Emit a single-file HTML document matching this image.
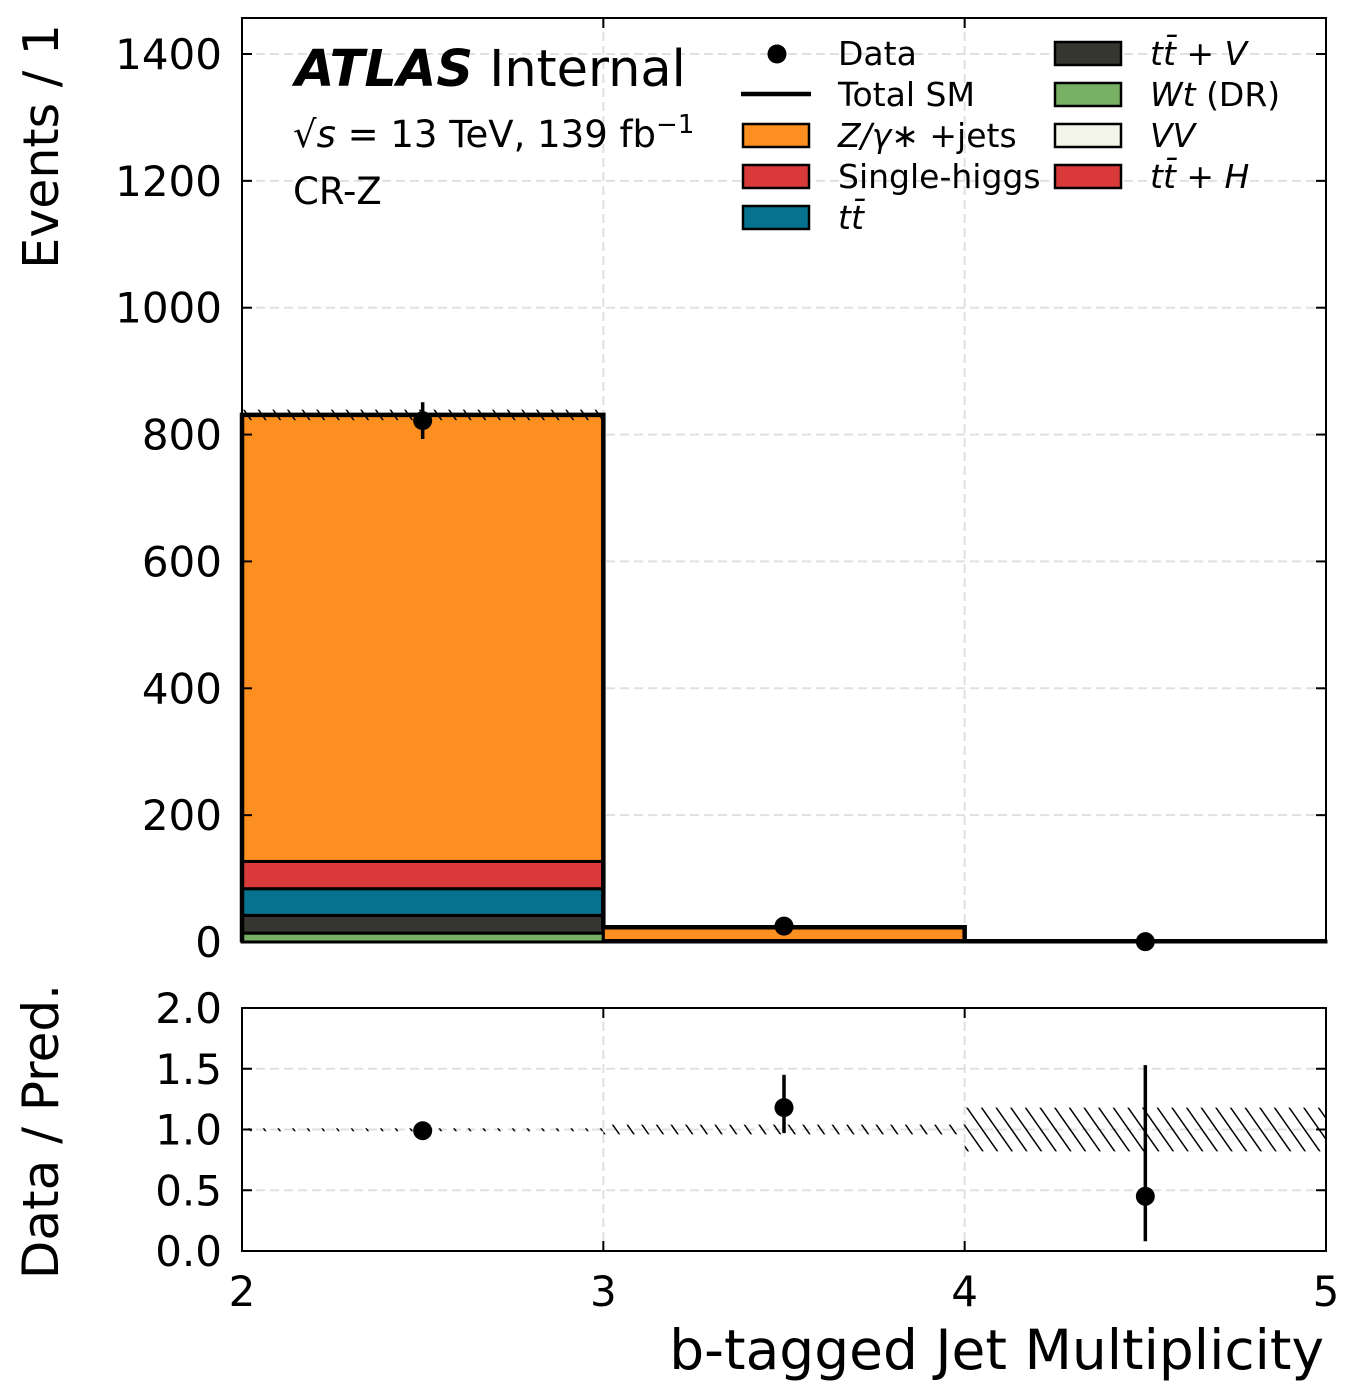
<!DOCTYPE html>
<html><head><meta charset="utf-8"><style>
html,body{margin:0;padding:0;background:#fff;}
svg{display:block;font-family:"DejaVu Sans","Liberation Sans",sans-serif;}
</style></head><body>
<svg id="chart" width="1360" height="1399" viewBox="0 0 1360 1399" xmlns="http://www.w3.org/2000/svg">
<defs>
<pattern id="hatch" patternUnits="userSpaceOnUse" width="12" height="12" patternTransform="rotate(-35)">
<line x1="0" y1="0" x2="0" y2="12" stroke="#000" stroke-width="3"/>
</pattern>
</defs>
<g id="main"></g>
<g id="ratio"></g>
<g id="legend"></g>
</svg>
<script>
const binEdges = [2, 3, 4, 5];
const wtDR = [14, 0.3, 0.05];
const ttV = [28, 0.5, 0.05];
const ttbar = [42, 1, 0.1];
const singleHiggs = [43, 0.5, 0.05];
const zjets = [704, 21, 0.9];
const dataVals = [822, 25, 0.5];
const dataErr = [29, 5, 0.7];
const ratioVals = [0.99, 1.18, 0.45];
const ratioErrLo = [0.02, 0.21, 0.37];
const ratioErrHi = [0.02, 0.27, 1.08];
const bandHalf = [0.01, 0.04, 0.18];
const yTicks = [0, 200, 400, 600, 800, 1000, 1200, 1400];
const rTicks = [0, 0.5, 1.0, 1.5, 2.0];
const xTicks = [2, 3, 4, 5];

const NS = "http://www.w3.org/2000/svg";
const L = 242, R = 1326, T = 18, B = 942, RT = 1008, RB = 1251;
const xs = v => L + (v - 2) / 3 * (R - L);
const ys = v => B - v / 1400 * (942 - 54);
const rs = v => RB - v / 2 * (RB - RT);
function mk(parent, tag, attrs) { const e = document.createElementNS(NS, tag); for (const k in attrs) e.setAttribute(k, attrs[k]); parent.appendChild(e); return e; }
const main = document.getElementById('main');
const ratio = document.getElementById('ratio');

for (const t of yTicks) { if (t === 0) continue; const g = mk(main, 'line', {x1: L, x2: R, y1: ys(t), y2: ys(t), stroke: '#e0e0e0', 'stroke-width': 2, 'stroke-dasharray': '9,5'});   }
for (const t of xTicks) { if (t === 2 || t === 5) continue;
  const g = mk(main, 'line', {x1: xs(t), x2: xs(t), y1: T, y2: B, stroke: '#e0e0e0', 'stroke-width': 2, 'stroke-dasharray': '9,5'});  
  const g2 = mk(ratio, 'line', {x1: xs(t), x2: xs(t), y1: RT, y2: RB, stroke: '#e0e0e0', 'stroke-width': 2, 'stroke-dasharray': '9,5'});   }
for (const t of rTicks) { if (t === 0 || t === 2) continue; const g = mk(ratio, 'line', {x1: L, x2: R, y1: rs(t), y2: rs(t), stroke: '#e0e0e0', 'stroke-width': 2, 'stroke-dasharray': '9,5'});   }

const stack = [[wtDR, '#77b064', 'wt-dr'], [ttV, '#363630', 'ttv'], [ttbar, '#077290', 'ttbar'], [singleHiggs, '#db3a3a', 'single-higgs'], [zjets, '#fc8f1f', 'z-jets']];
const totals = [];
for (let i = 0; i < 3; i++) {
  let base = 0;
  for (const [arr, col, nm] of stack) {
    const r = mk(main, 'rect', {x: xs(binEdges[i]), y: ys(base + arr[i]), width: xs(binEdges[i + 1]) - xs(binEdges[i]), height: ys(base) - ys(base + arr[i]), fill: col, stroke: '#000', 'stroke-width': 3});
     
    base += arr[i];
  }
  totals.push(base);
}
let d = 'M' + xs(2) + ',' + ys(0);
for (let i = 0; i < 3; i++) d += ' L' + xs(binEdges[i]) + ',' + ys(totals[i]) + ' L' + xs(binEdges[i + 1]) + ',' + ys(totals[i]);
const tl = mk(main, 'path', {d: d, fill: 'none', stroke: '#000', 'stroke-width': 4.5});
 
for (let i = 0; i < 3; i++) {
  const h = totals[i] * bandHalf[i];
  const r = mk(main, 'rect', {x: xs(binEdges[i]), y: ys(totals[i] + h), width: xs(binEdges[i + 1]) - xs(binEdges[i]), height: Math.max(ys(totals[i] - h) - ys(totals[i] + h), 0.5), fill: 'url(#hatch)'});
   
}
for (let i = 0; i < 3; i++) {
  const cx = xs((binEdges[i] + binEdges[i + 1]) / 2);
  const e = mk(main, 'line', {x1: cx, x2: cx, y1: ys(dataVals[i] + dataErr[i]), y2: ys(Math.max(dataVals[i] - dataErr[i], 0)), stroke: '#000', 'stroke-width': 3.5});
   
  const c = mk(main, 'circle', {cx: cx, cy: ys(dataVals[i]), r: 9.5, fill: '#000'});
   
}
for (let i = 0; i < 3; i++) {
  const r = mk(ratio, 'rect', {x: xs(binEdges[i]), y: rs(1 + bandHalf[i]), width: xs(binEdges[i + 1]) - xs(binEdges[i]), height: Math.max(rs(1 - bandHalf[i]) - rs(1 + bandHalf[i]), 3), fill: 'url(#hatch)'});
   
  const cx = xs((binEdges[i] + binEdges[i + 1]) / 2);
  const e = mk(ratio, 'line', {x1: cx, x2: cx, y1: rs(ratioVals[i] + ratioErrHi[i]), y2: rs(ratioVals[i] - ratioErrLo[i]), stroke: '#000', 'stroke-width': 3.5});
   
  const c = mk(ratio, 'circle', {cx: cx, cy: rs(ratioVals[i]), r: 9.5, fill: '#000'});
   
}
const f1 = mk(main, 'rect', {x: L, y: T, width: R - L, height: B - T, fill: 'none', stroke: '#000', 'stroke-width': 2});
 
const f2 = mk(ratio, 'rect', {x: L, y: RT, width: R - L, height: RB - RT, fill: 'none', stroke: '#000', 'stroke-width': 2});
 
function txt(parent, x, y, s, size, anchor, name, extra) {
  const t = mk(parent, 'text', Object.assign({x: x, y: y, 'font-size': size, 'text-anchor': anchor, fill: '#000'}, extra || {}));
  t.textContent = s;   return t;
}
for (const t of yTicks) {
  mk(main, 'line', {x1: L, x2: L + 10, y1: ys(t), y2: ys(t), stroke: '#000', 'stroke-width': 2});
  mk(main, 'line', {x1: R, x2: R - 10, y1: ys(t), y2: ys(t), stroke: '#000', 'stroke-width': 2});
  txt(main, L - 20, ys(t) + 15, String(t), 42, 'end', 'y-tick-label');
}
for (const t of rTicks) {
  mk(ratio, 'line', {x1: L, x2: L + 10, y1: rs(t), y2: rs(t), stroke: '#000', 'stroke-width': 2});
  mk(ratio, 'line', {x1: R, x2: R - 10, y1: rs(t), y2: rs(t), stroke: '#000', 'stroke-width': 2});
  txt(ratio, L - 20, rs(t) + 15, t.toFixed(1), 42, 'end', 'ratio-y-tick-label');
}
for (const t of xTicks) {
  mk(main, 'line', {x1: xs(t), x2: xs(t), y1: B, y2: B - 10, stroke: '#000', 'stroke-width': 2});
  mk(main, 'line', {x1: xs(t), x2: xs(t), y1: T, y2: T + 10, stroke: '#000', 'stroke-width': 2});
  mk(ratio, 'line', {x1: xs(t), x2: xs(t), y1: RB, y2: RB - 10, stroke: '#000', 'stroke-width': 2});
  mk(ratio, 'line', {x1: xs(t), x2: xs(t), y1: RT, y2: RT + 10, stroke: '#000', 'stroke-width': 2});
  txt(ratio, xs(t), 1306, String(t), 42, 'middle', 'x-tick-label');
}
txt(ratio, 1324, 1369, 'b-tagged Jet Multiplicity', 55, 'end', 'x-axis-title');
txt(main, 0, 0, 'Events / 1', 49, 'end', 'y-axis-title', {transform: 'translate(58,24) rotate(-90)'});
txt(ratio, 0, 0, 'Data / Pred.', 50, 'end', 'ratio-y-axis-title', {transform: 'translate(58,984) rotate(-90)'});
const a = txt(main, 295, 86, '', 51, 'start', 'atlas-label');
a.innerHTML = '<tspan font-weight="bold" font-style="italic">ATLAS</tspan> Internal';
const e2 = txt(main, 293, 147, '', 37, 'start', 'energy-lumi-label');
e2.innerHTML = '√<tspan font-style="italic">s</tspan> = 13 TeV, 139 fb<tspan dy="-14" font-size="26">−1</tspan>';
txt(main, 293, 204, 'CR-Z', 37, 'start', 'region-label');
const lg = document.getElementById('legend');
const c1 = mk(lg, 'circle', {cx: 777, cy: 54, r: 9.5, fill: '#000'});  
txt(lg, 838, 65, 'Data', 33, 'start', 'legend-entry-data');
mk(lg, 'line', {x1: 741, x2: 811, y1: 94, y2: 94, stroke: '#000', 'stroke-width': 4.5});
txt(lg, 838, 106, 'Total SM', 33, 'start', 'legend-entry-total-sm');
const entries = [
  [743, 124, '#fc8f1f', 838, 'Z/γ∗ +jets', true],
  [743, 165, '#db3a3a', 838, 'Single-higgs', false],
  [743, 206, '#077290', 838, 'tt̄', true],
  [1055, 42, '#363630', 1150, 'tt̄ + V', true],
  [1055, 83, '#77b064', 1150, 'Wt (DR)', true],
  [1055, 124, '#f3f5e8', 1150, 'VV', true],
  [1055, 165, '#db3a3a', 1150, 'tt̄ + H', true]];
for (const [x, y, col, tx, label, it] of entries) {
  const r = mk(lg, 'rect', {x: x, y: y, width: 66, height: 23, fill: col, stroke: '#000', 'stroke-width': 2.5});
   
  const t = txt(lg, tx, y + 23, label, 33, 'start', 'legend-entry', it ? {'font-style': 'italic'} : {});
  if (label === 'Wt (DR)') t.innerHTML = 'Wt <tspan font-style="normal">(DR)</tspan>';
  if (label === 'Z/γ∗ +jets') t.innerHTML = 'Z/γ∗ <tspan font-style="normal">+jets</tspan>';
}
</script>
</body></html>
